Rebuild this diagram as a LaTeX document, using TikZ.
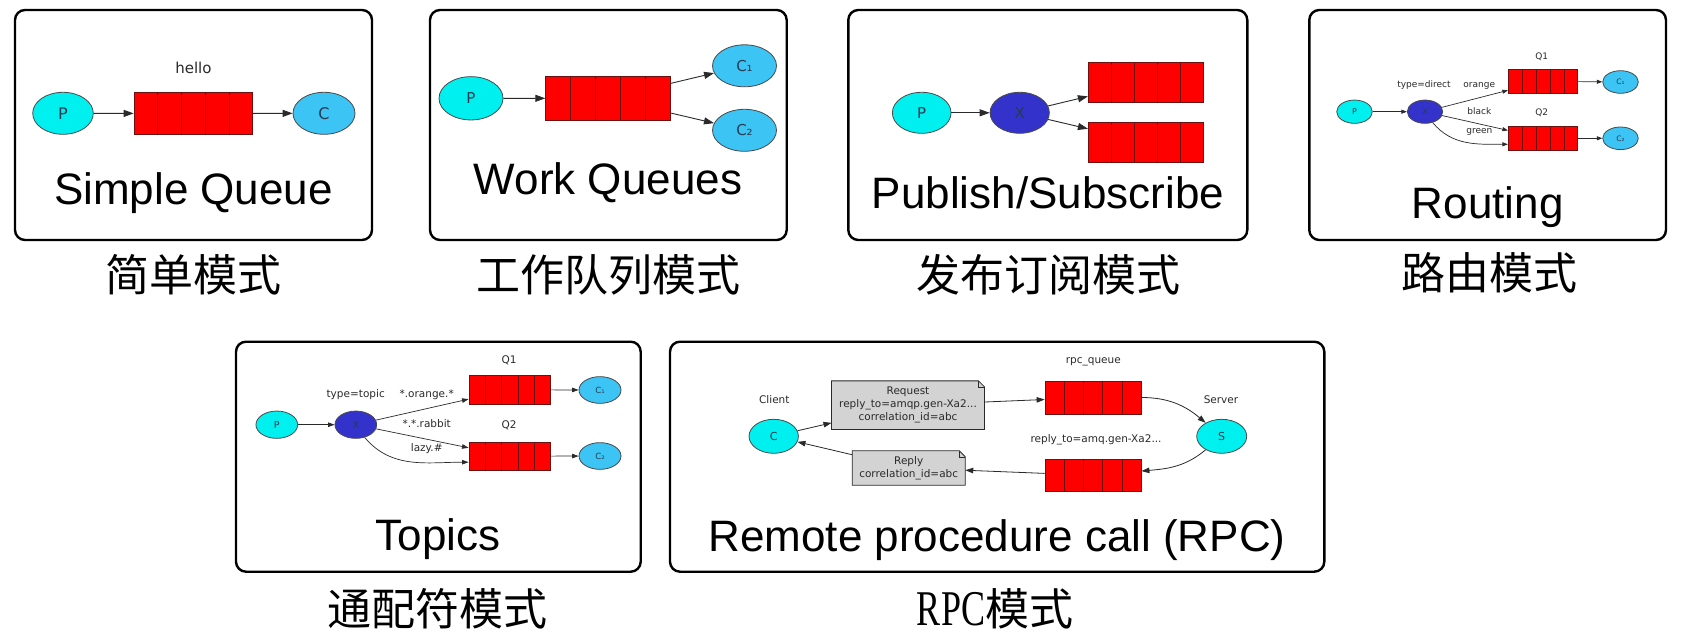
\documentclass[tikz,border=0pt]{standalone}
\usepackage{fontspec}
\usepackage{graphicx}
\setmainfont{Liberation Sans}
\newfontfamily\gv{DejaVu Sans}
\newfontfamily\cjk{Noto Sans CJK SC}
\newfontfamily\rpcserif{Liberation Serif}
\usetikzlibrary{shapes.geometric,arrows.meta,calc,backgrounds}
\definecolor{pcyan}{HTML}{00F0F0}
\definecolor{cblue}{HTML}{3CC4F4}
\definecolor{xblue}{HTML}{3333CC}
\definecolor{qred}{HTML}{FF0000}
\definecolor{qline}{HTML}{6E1010}
\definecolor{edgec}{HTML}{2A2A2A}
\definecolor{notefill}{HTML}{D3D3D3}
\definecolor{txt}{HTML}{2A3A50}
\newcommand\qcells[1]{\foreach \i in {1,2,3,4}{\draw[qline, line width=0.8pt] ($(#1.north west)!\i/5!(#1.north east)$) -- ($(#1.south west)!\i/5!(#1.south east)$);}}
\newcommand\notebg[1]{%
  \filldraw[fill=notefill, draw=edgec, line width=0.8pt] (#1.north west) -- ([xshift=-6pt]#1.north east) -- ([yshift=-6pt]#1.north east) -- (#1.south east) -- (#1.south west) -- cycle;
  \draw[edgec, line width=0.6pt] ([xshift=-6pt]#1.north east) -- ([xshift=-6pt,yshift=-6pt]#1.north east) -- ([yshift=-6pt]#1.north east);}
\tikzset{
  panelbox/.style={draw=black, line width=2.4pt, rounded corners=10pt},
  ell/.style={ellipse, draw=edgec!85, line width=0.8pt, inner sep=0pt, text=txt},
  prod/.style={ell, fill=pcyan},
  cons/.style={ell, fill=cblue},
  exch/.style={ell, fill=xblue},
  queuebox/.style={rectangle, draw=qline, fill=qred, line width=0.8pt, inner sep=0pt},
  notebox/.style={rectangle, inner sep=0pt, text=edgec, align=center},
  titletext/.style={anchor=base, font=\fontsize{44}{44}\selectfont},
  cjkcap/.style={font=\cjk\fontsize{44}{44}\selectfont},
  lbl/.style={text=edgec},
  abig/.style={draw=edgec, line width=0.9pt, -{Triangle[length=10pt, width=7pt]}},
  amid/.style={draw=edgec, line width=0.8pt, -{Triangle[length=8pt, width=5.5pt]}},
  asmall/.style={draw=edgec, line width=0.7pt, -{Triangle[length=5.5pt, width=4pt]}},
  atop/.style={draw=edgec, line width=0.7pt, -{Triangle[length=6.5pt, width=4.5pt]}},
}
\begin{document}
\begin{tikzpicture}[x=1pt, y=-1pt]
\useasboundingbox (0,0) rectangle (1681,644);
\begin{scope}[on background layer]
\fill[white] (0,0) rectangle (1681,644);
\end{scope}

% ---------- Panel 1: Simple Queue ----------
\draw[panelbox] (15,10) rectangle (372,240);
\node[prod, minimum width=60.6pt, minimum height=42pt, font=\gv\fontsize{16}{16}\selectfont] (sP) at (63,113.3) {P};
\node[queuebox, minimum width=118.7pt, minimum height=41.6pt] (sQ) at (193.4,113.5) {};
\qcells{sQ}
\node[cons, minimum width=62pt, minimum height=42pt, font=\gv\fontsize{16}{16}\selectfont] (sC) at (324,113.3) {C};
\node[lbl, anchor=base, font=\gv\fontsize{15}{15}\selectfont] (sL) at (193.4,74) {hello};
\draw[abig] (sP) -- (sQ);
\draw[abig] (sQ) -- (sC);
\node[titletext] (sT) at (193.5,205) {Simple Queue};
\node[cjkcap] (sCap) at (193.5,275) {简单模式};

% ---------- Panel 2: Work Queues ----------
\draw[panelbox] (430,10) rectangle (786.7,240);
\node[prod, minimum width=64pt, minimum height=43.3pt, font=\gv\fontsize{15}{15}\selectfont] (wP) at (471,98.3) {P};
\node[queuebox, minimum width=124.3pt, minimum height=43.3pt] (wQ) at (607.85,98.35) {};
\qcells{wQ}
\node[cons, minimum width=64pt, minimum height=42pt, font=\gv\fontsize{15}{15}\selectfont] (wC1) at (744.5,65.8) {C₁};
\node[cons, minimum width=64pt, minimum height=42pt, font=\gv\fontsize{15}{15}\selectfont] (wC2) at (744.5,130.3) {C₂};
\draw[abig] (wP) -- (wQ);
\draw[abig] (wQ) -- (wC1);
\draw[abig] (wQ) -- (wC2);
\node[titletext] (wT) at (608,194.3) {Work Queues};
\node[cjkcap] (wCap) at (608,275) {工作队列模式};

% ---------- Panel 3: Publish/Subscribe ----------
\draw[panelbox] (848.3,10) rectangle (1247.3,240);
\node[prod, minimum width=58.7pt, minimum height=41pt, font=\gv\fontsize{15}{15}\selectfont] (pP) at (921.7,112.8) {P};
\node[exch, minimum width=59.3pt, minimum height=41pt, font=\gv\fontsize{15}{15}\selectfont] (pX) at (1019.7,112.8) {X};
\node[queuebox, minimum width=115pt, minimum height=40.4pt] (pQ1) at (1145.8,82.5) {};
\qcells{pQ1}
\node[queuebox, minimum width=115pt, minimum height=40pt] (pQ2) at (1145.8,142.3) {};
\qcells{pQ2}
\draw[abig] (pP) -- (pX);
\draw[abig] (pX) -- (pQ1);
\draw[abig] (pX) -- (pQ2);
\node[titletext] (pT) at (1048,208.3) {Publish/Subscribe};
\node[cjkcap] (pCap) at (1048,275) {发布订阅模式};

% ---------- Panel 4: Routing ----------
\draw[panelbox] (1309.3,10) rectangle (1666,240);
\node[prod, minimum width=35.6pt, minimum height=23.3pt, font=\gv\fontsize{8}{8}\selectfont] (rP) at (1354.5,111.7) {P};
\node[exch, minimum width=35.4pt, minimum height=23.3pt, font=\gv\fontsize{8}{8}\selectfont] (rX) at (1425,111.7) {X};
\node[queuebox, minimum width=69.4pt, minimum height=24pt] (rQ1) at (1543,81.3) {};
\qcells{rQ1}
\node[queuebox, minimum width=69.4pt, minimum height=23.3pt] (rQ2) at (1543,138.3) {};
\qcells{rQ2}
\node[cons, minimum width=35.6pt, minimum height=22.6pt, font=\gv\fontsize{7.5}{7.5}\selectfont] (rC1) at (1620.5,82) {C₁};
\node[cons, minimum width=35.6pt, minimum height=22.6pt, font=\gv\fontsize{7.5}{7.5}\selectfont] (rC2) at (1620.5,138.3) {C₂};
\begin{scope}[font=\gv\fontsize{9}{9}\selectfont]
\node[lbl] (rLq1) at (1541.7,56.7) {Q1};
\node[lbl] (rLq2) at (1541.7,112.3) {Q2};
\node[lbl] (rLt) at (1424,85) {type=direct};
\node[lbl] (rLo) at (1479.3,86) {orange};
\node[lbl] (rLb) at (1479.3,111) {black};
\node[lbl] (rLg) at (1479.3,131.7) {green};
\end{scope}
\draw[asmall] (rP) -- (rX);
\draw[asmall] (rX) -- (rQ1);
\draw[asmall] (rX) -- (rQ2);
\draw[asmall] (rX.-55) to[out=-50, in=180] ([yshift=-6pt]rQ2.west);
\draw[asmall] (rQ1) -- (rC1);
\draw[asmall] (rQ2) -- (rC2);
\node[titletext] (rT) at (1487.7,218.3) {Routing};
\node[cjkcap] (rCap) at (1489,273) {路由模式};

% ---------- Panel 5: Topics ----------
\draw[panelbox] (236,341.7) rectangle (640.7,571.7);
\node[prod, minimum width=41.7pt, minimum height=27.3pt, font=\gv\fontsize{9.5}{9.5}\selectfont] (tP) at (276.8,424.7) {P};
\node[exch, minimum width=41.7pt, minimum height=27.3pt, font=\gv\fontsize{9.5}{9.5}\selectfont] (tX) at (355.8,424.7) {X};
\node[queuebox, minimum width=81.7pt, minimum height=28.3pt] (tQ1) at (509.8,389.8) {};
\qcells{tQ1}
\node[queuebox, minimum width=81.7pt, minimum height=27.7pt] (tQ2) at (509.8,456.2) {};
\qcells{tQ2}
\node[cons, minimum width=42pt, minimum height=26.7pt, font=\gv\fontsize{8.5}{8.5}\selectfont] (tC1) at (600,390) {C₁};
\node[cons, minimum width=42pt, minimum height=26.7pt, font=\gv\fontsize{8.5}{8.5}\selectfont] (tC2) at (600,456) {C₂};
\begin{scope}[font=\gv\fontsize{10.5}{10.5}\selectfont]
\node[lbl] (tLq1) at (509,360) {Q1};
\node[lbl] (tLq2) at (509,425) {Q2};
\node[lbl] (tLt) at (355.7,394.3) {type=topic};
\node[lbl] (tLo) at (426.7,394.3) {*.orange.*};
\node[lbl] (tLr) at (426.7,423.3) {*.*.rabbit};
\node[lbl] (tLl) at (426.7,448.3) {lazy.\#};
\end{scope}
\draw[atop] (tP) -- (tX);
\draw[atop] (tX) -- (tQ1);
\draw[atop] (tX) -- (tQ2);
\draw[atop] (tX.-55) to[out=-50, in=180] ([yshift=-6pt]tQ2.west);
\draw[atop] (tQ1) -- (tC1);
\draw[atop] (tQ2) -- (tC2);
\node[titletext] (tT) at (438.3,550) {Topics};
\node[cjkcap] (tCap) at (437,609) {通配符模式};

% ---------- Panel 6: RPC ----------
\draw[panelbox] (670,341.7) rectangle (1324.3,571.7);
\begin{scope}[font=\gv\fontsize{10.5}{13}\selectfont]
\node[lbl] (cLbl) at (774.3,400) {Client};
\node[lbl] (sLbl) at (1221,400) {Server};
\node[lbl] (qLbl1) at (1093.3,361.7) {rpc\_queue};
\node[lbl] (qLbl2) at (1096,439.3) {reply\_to=amq.gen-Xa2...};
\node[notebox, minimum width=152.6pt, minimum height=48.3pt] (req) at (908,405.2) {Request\\reply\_to=amqp.gen-Xa2...\\correlation\_id=abc};
\node[notebox, minimum width=112.7pt, minimum height=34pt] (rep) at (908.7,468) {Reply\\correlation\_id=abc};
\end{scope}
\begin{scope}[on background layer]
\notebg{req}
\notebg{rep}
\end{scope}
\node[prod, minimum width=49.4pt, minimum height=34pt, font=\gv\fontsize{11}{11}\selectfont] (cC) at (773.7,436.3) {C};
\node[prod, minimum width=50pt, minimum height=34pt, font=\gv\fontsize{11}{11}\selectfont] (cS) at (1221.7,436.3) {S};
\node[queuebox, minimum width=96pt, minimum height=33pt] (cQt) at (1093,397.5) {};
\qcells{cQt}
\node[queuebox, minimum width=96pt, minimum height=32.7pt] (cQb) at (1093,475.3) {};
\qcells{cQb}
\draw[amid] (cC) -- (req);
\draw[amid] (req) -- (cQt);
\draw[amid] (cQt) to[out=0, in=140] (cS);
\draw[amid] (cS) to[out=220, in=5] (cQb);
\draw[amid] (cQb) -- (rep);
\draw[amid] (rep) -- (cC);
\node[titletext] (cT) at (997,551.7) {Remote procedure call (RPC)};
\node[cjkcap] (cCap) at (995,609) {{\rpcserif\scalebox{0.72}[1]{\fontsize{50}{50}\selectfont RPC}}模式};
\end{tikzpicture}
\end{document}
